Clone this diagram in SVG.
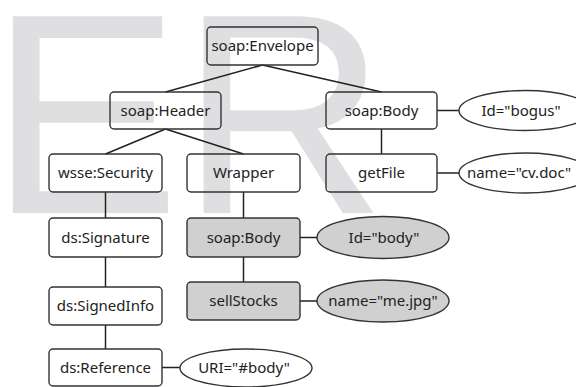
<svg xmlns="http://www.w3.org/2000/svg" width="576" height="387" viewBox="0 0 576 387">
<style>
.wm{font-family:"Liberation Sans",Arial,sans-serif;font-size:286px;fill:#dfdfe2}
.box{fill:none;stroke:#333;stroke-width:1.4}
.gbox{fill:#d0d0d0;stroke:#333;stroke-width:1.4}
.ell{fill:#fff;stroke:#333;stroke-width:1.4}
.gell{fill:#d0d0d0;stroke:#333;stroke-width:1.4}
.lbl{font-family:"Noto Sans","DejaVu Sans",sans-serif;font-size:15px;fill:#222;text-anchor:middle}
.con line{stroke:#222;stroke-width:1.5}
</style>
<rect width="576" height="387" fill="#fff"/>
<text class="wm" x="-10.6" y="213">ER</text>
<g id="connectors" class="con">
<line x1="262.5" y1="65" x2="165.5" y2="92"/>
<line x1="262.5" y1="65" x2="381.5" y2="92"/>
<line x1="165.5" y1="129" x2="105.5" y2="154"/>
<line x1="165.5" y1="129" x2="243.5" y2="154"/>
<line x1="381.5" y1="129" x2="381.5" y2="154"/>
<line x1="105.5" y1="192" x2="105.5" y2="218"/>
<line x1="105.5" y1="257" x2="105.5" y2="287"/>
<line x1="105.5" y1="325" x2="105.5" y2="349"/>
<line x1="243.5" y1="192" x2="243.5" y2="218"/>
<line x1="243.5" y1="257" x2="243.5" y2="282"/>
<line x1="437" y1="110.5" x2="459" y2="110.5"/>
<line x1="437" y1="173" x2="459" y2="173"/>
<line x1="300" y1="237.5" x2="317" y2="237.5"/>
<line x1="300" y1="301" x2="317" y2="301"/>
<line x1="162" y1="367.5" x2="180" y2="367.5"/>
</g>
<g id="n_envelope"><rect class="box" x="207" y="27" width="111" height="38" rx="4"/><text class="lbl" x="262.5" y="51">soap:Envelope</text></g>
<g id="n_header"><rect class="box" x="110" y="92" width="111" height="37" rx="4"/><text class="lbl" x="165.5" y="115.5">soap:Header</text></g>
<g id="n_body1"><rect class="box" x="326" y="92" width="111" height="37" rx="4"/><text class="lbl" x="381.5" y="115.5">soap:Body</text></g>
<g id="n_bogus"><ellipse class="ell" cx="525" cy="110.5" rx="66" ry="20"/><text class="lbl" x="521" y="115.5">Id="bogus"</text></g>
<g id="n_security"><rect class="box" x="49" y="154" width="113" height="38" rx="4"/><text class="lbl" x="105.5" y="178">wsse:Security</text></g>
<g id="n_wrapper"><rect class="box" x="187" y="154" width="113" height="38" rx="4"/><text class="lbl" x="243.5" y="178">Wrapper</text></g>
<g id="n_getfile"><rect class="box" x="326" y="154" width="111" height="38" rx="4"/><text class="lbl" x="381.5" y="178">getFile</text></g>
<g id="n_cvdoc"><ellipse class="ell" cx="525" cy="173" rx="66" ry="20"/><text class="lbl" x="519" y="178">name="cv.doc"</text></g>
<g id="n_signature"><rect class="box" x="49" y="218" width="113" height="39" rx="4"/><text class="lbl" x="105.5" y="242.5">ds:Signature</text></g>
<g id="n_body2"><rect class="gbox" x="187" y="218" width="113" height="39" rx="4"/><text class="lbl" x="243.5" y="242.5">soap:Body</text></g>
<g id="n_idbody"><ellipse class="gell" cx="383" cy="237.5" rx="66" ry="21"/><text class="lbl" x="384" y="242.5">Id="body"</text></g>
<g id="n_signedinfo"><rect class="box" x="49" y="287" width="113" height="38" rx="4"/><text class="lbl" x="105.5" y="311">ds:SignedInfo</text></g>
<g id="n_sellstocks"><rect class="gbox" x="187" y="282" width="113" height="38" rx="4"/><text class="lbl" x="243.5" y="306">sellStocks</text></g>
<g id="n_mejpg"><ellipse class="gell" cx="383" cy="301" rx="66" ry="21"/><text class="lbl" x="383" y="306">name="me.jpg"</text></g>
<g id="n_reference"><rect class="box" x="49" y="349" width="113" height="37" rx="4"/><text class="lbl" x="105.5" y="372.5">ds:Reference</text></g>
<g id="n_uri"><ellipse class="ell" cx="246" cy="368" rx="66" ry="19"/><text class="lbl" x="244" y="373">URI="#body"</text></g>
</svg>
